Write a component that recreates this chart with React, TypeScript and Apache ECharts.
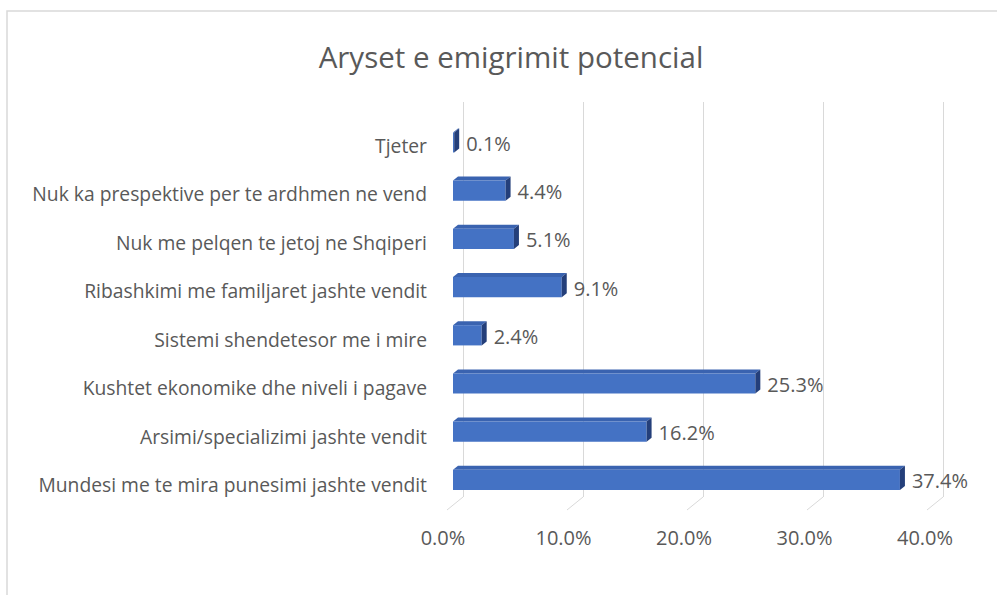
import React, { useEffect, useRef } from "react";
import * as echarts from "echarts";

const titleText = "Aryset e emigrimit potencial";
const categories = [
  "Tjeter",
  "Nuk ka prespektive per te ardhmen ne vend",
  "Nuk me pelqen te jetoj ne Shqiperi",
  "Ribashkimi me familjaret jashte vendit",
  "Sistemi shendetesor me i mire",
  "Kushtet ekonomike dhe niveli i pagave",
  "Arsimi/specializimi jashte vendit",
  "Mundesi me te mira punesimi jashte vendit",
];
const values = [0.1, 4.4, 5.1, 9.1, 2.4, 25.3, 16.2, 37.4];
const xMin = 0;
const xMax = 40;
const xInterval = 10;
const tickValues = [0, 10, 20, 30, 40];

const FONT = "Open Sans";
const TEXT = "#595959";
const GRID = "#d9d9d9";

export default function App() {
  const ref = useRef<HTMLDivElement>(null);
  useEffect(() => {
    if (!ref.current) return;
    const chart = echarts.init(ref.current, null, { renderer: "svg" });
    const fmt = (v: number) => v.toFixed(1) + "%";
    const option: any = {
      animation: false,
      backgroundColor: "#ffffff",
      title: {
        text: titleText,
        left: 506,
        top: 36,
        textAlign: "center",
        textStyle: { fontFamily: FONT, fontSize: 29.5, fontWeight: "normal", color: TEXT },
      },
      graphic: [
        {
          type: "rect",
          shape: { x: 7, y: 11, width: 1000, height: 600 },
          style: { fill: "none", stroke: GRID, lineWidth: 1.5 },
          silent: true,
          z: -1,
        },
      ],
      grid: [
        { left: 463, width: 480, top: 102, height: 395, containLabel: false },
        { left: 453, width: 478, top: 118.4, height: 385.6, containLabel: false },
        { left: 443, width: 482, top: 102, height: 424, containLabel: false },
        { left: 453, width: 478, top: 121, height: 388, containLabel: false },
      ],
      xAxis: [
        {
          gridIndex: 0, type: "value", min: xMin, max: xMax, interval: xInterval,
          axisLabel: { show: false }, axisLine: { show: false }, axisTick: { show: false },
          splitLine: { show: true, lineStyle: { color: GRID, width: 1 } },
        },
        {
          gridIndex: 1, type: "value", min: xMin, max: xMax, interval: xInterval,
          axisLabel: { show: false }, axisLine: { show: false }, axisTick: { show: false },
          splitLine: { show: false },
        },
        {
          gridIndex: 2, type: "value", min: xMin, max: xMax, interval: xInterval,
          axisLine: { show: false }, axisTick: { show: false }, splitLine: { show: false },
          axisLabel: { formatter: fmt, margin: 1, fontFamily: FONT, fontSize: 20, color: TEXT },
        },
        {
          gridIndex: 3, type: "value", min: xMin, max: xMax, interval: xInterval, show: false,
        },
      ],
      yAxis: [
        { gridIndex: 0, type: "category", data: categories, inverse: true, show: false },
        { gridIndex: 1, type: "category", data: categories, inverse: true, show: false },
        { gridIndex: 2, type: "category", data: categories, inverse: true, show: false },
        {
          gridIndex: 3, type: "category", data: categories, inverse: true,
          axisLine: { show: false }, axisTick: { show: false }, splitLine: { show: false },
          axisLabel: { margin: 26, fontFamily: FONT, fontSize: 19.3, color: TEXT },
        },
      ],
      series: [
        {
          type: "custom",
          xAxisIndex: 0,
          yAxisIndex: 0,
          silent: true,
          data: tickValues.map((t) => [t, 0]),
          renderItem: (params: any, api: any) => {
            const cs = params.coordSys;
            const x = api.coord([api.value(0), 0])[0];
            const yb = cs.y + cs.height;
            return {
              type: "line",
              shape: { x1: x, y1: yb, x2: x - 16, y2: yb + 13 },
              style: { stroke: GRID, lineWidth: 1 },
            };
          },
        },
        {
          type: "custom",
          xAxisIndex: 1,
          yAxisIndex: 1,
          silent: true,
          data: values.map((v, i) => [v, i]),
          renderItem: (params: any, api: any) => {
            const v = api.value(0);
            const i = api.value(1);
            const s = api.coord([0, i]);
            const e = api.coord([v, i]);
            const band = api.size([0, 1])[1];
            const h = band * 0.42;
            const x0 = s[0];
            const x1 = e[0];
            const y0 = s[1] - h / 2;
            const y1 = y0 + h;
            const dx = 5;
            const dy = 4;
            return {
              type: "group",
              children: [
                {
                  type: "polygon",
                  shape: { points: [[x0, y0], [x0 + dx, y0 - dy], [x1 + dx, y0 - dy], [x1, y0]] },
                  style: { fill: "#3a63b0" },
                },
                {
                  type: "rect",
                  shape: { x: x0, y: y0, width: x1 - x0, height: h },
                  style: { fill: "#4472c4" },
                },
                {
                  type: "polygon",
                  shape: { points: [[x1, y0], [x1 + dx, y0 - dy], [x1 + dx, y1 - dy], [x1, y1]] },
                  style: { fill: "#243f7a" },
                },
                {
                  type: "text",
                  style: {
                    x: x1 + 12,
                    y: s[1] + 1,
                    text: fmt(v),
                    fontFamily: FONT,
                    fontSize: 20,
                    fill: TEXT,
                    verticalAlign: "middle",
                    align: "left",
                  },
                },
              ],
            };
          },
        },
      ],
    };
    chart.setOption(option);
    return () => chart.dispose();
  }, []);
  return (
    <div
      ref={ref}
      style={{ position: "fixed", left: 0, top: 0, width: 997, height: 595, background: "#fff" }}
    />
  );
}
